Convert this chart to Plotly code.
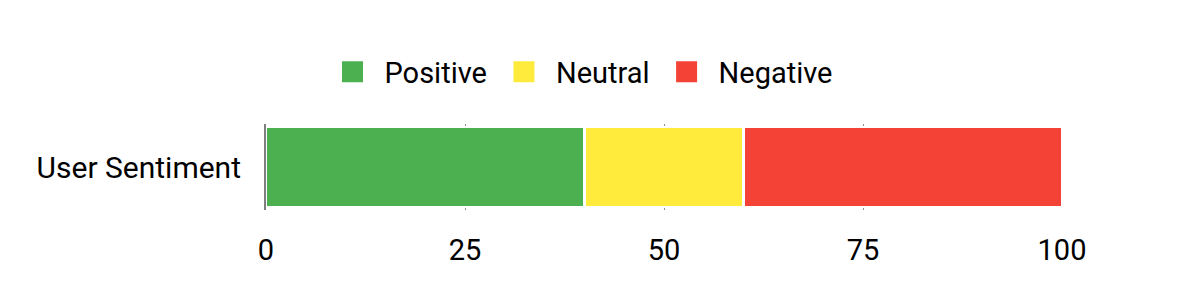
import plotly.graph_objects as go

categories = ["User Sentiment"]
series_names = ["Positive", "Neutral", "Negative"]
series_values = [[40], [20], [40]]
series_colors = ["#4CAF50", "#FFEB3B", "#F44336"]
tick_vals = [0, 25, 50, 75, 100]

fig = go.Figure()
for name, vals, col in zip(series_names, series_values, series_colors):
    fig.add_trace(go.Bar(
        y=categories, x=vals, name=name, orientation="h",
        marker=dict(color=col, line=dict(color="white", width=2.6)),
        showlegend=False, hoverinfo="x+name",
    ))
# legend-only entries (larger square swatches)
for name, col in zip(series_names, series_colors):
    fig.add_trace(go.Scatter(
        x=[None], y=[None], mode="markers", name=name,
        marker=dict(symbol="square", size=16, color=col, line=dict(color=col, width=5)),
        showlegend=True,
    ))

fig.update_layout(
    barmode="stack",
    bargap=0.07,
    width=1200, height=300,
    margin=dict(l=266, r=138, t=124, b=90),
    paper_bgcolor="white", plot_bgcolor="white",
    font=dict(family="Roboto, Arial, sans-serif", size=29, color="#000"),
    legend=dict(
        orientation="h", xref="container", x=0.4825, xanchor="center",
        yref="container", y=0.76, yanchor="middle",
        font=dict(size=29), itemwidth=54, traceorder="normal",
    ),
    xaxis=dict(
        range=[0, 100], tickvals=tick_vals, showgrid=True, gridcolor="#8c8c8c",
        gridwidth=1, zeroline=False,
        ticks="", ticklabelstandoff=20, fixedrange=True,
        tickfont=dict(size=29),
    ),
    yaxis=dict(showgrid=False, zeroline=False, ticks="", ticklabelstandoff=17,
               showline=True, linecolor="#7f7f7f", linewidth=2,
               tickfont=dict(size=30), fixedrange=True),
)

fig.write_html("out.html")
